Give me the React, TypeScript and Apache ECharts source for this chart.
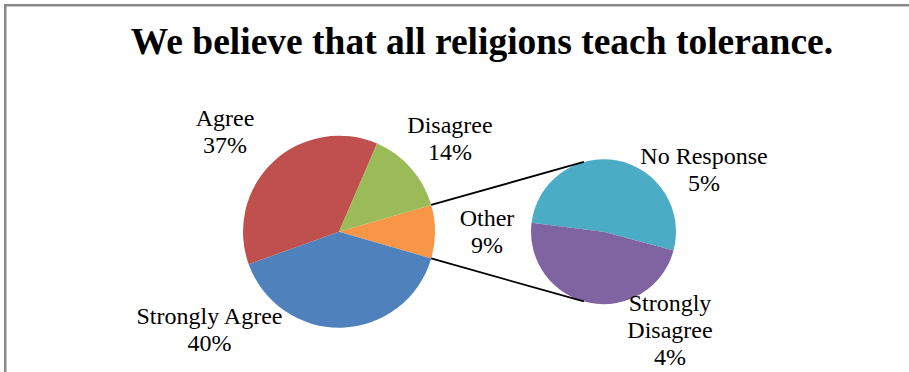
import React, { useEffect, useRef } from 'react';
import * as echarts from 'echarts';

const titleText = 'We believe that all religions teach tolerance.';
const otherName = 'Other';
const mainCategories = ['Strongly Agree', 'Agree', 'Disagree'];
const mainValues = [40, 37, 14];
const subCategories = ['No Response', 'Strongly Disagree'];
const subValues = [4.7, 4.3];

const otherColor = '#F79646';
const mainColors = ['#4F81BD', '#C0504D', '#9BBB59'];
const subColors = ['#4BACC6', '#8064A2'];

// layout
const W = 909;
const H = 372;
const mainCenter = [339, 231.7];
const mainR = 96;
const subCenter = [603.5, 231.7];
const subR = 72.5;
const subStartAngle = 172.9;
const labelPos: Record<string, [number, number]> = {
  'Other': [487, 231],
  'Strongly Agree': [209.5, 329],
  'Agree': [225, 131],
  'Disagree': [450, 138],
  'No Response': [704, 169.5],
  'Strongly Disagree': [670, 330],
};
const FONT = 'Liberation Serif';

export default function App() {
  const ref = useRef<HTMLDivElement>(null);
  useEffect(() => {
    document.body.style.margin = '0';
    if (!ref.current) return;
    const chart = echarts.init(ref.current, undefined, { renderer: 'svg' });

    const otherValue = subValues.reduce((a, b) => a + b, 0);
    const total = mainValues.reduce((a, b) => a + b, 0) + otherValue;
    const otherShare = otherValue / total;
    const startAngle = otherShare * 180;

    const mainData = [
      { name: otherName, value: otherValue, itemStyle: { color: otherColor } },
      ...mainCategories.map((n, i) => ({ name: n, value: mainValues[i], itemStyle: { color: mainColors[i] } })),
    ];
    const subData = subCategories.map((n, i) => ({ name: n, value: subValues[i], itemStyle: { color: subColors[i] } }));

    const fmt = (p: any) => {
      const pct = Math.round((p.value / total) * 100);
      const name = p.name === 'Strongly Disagree' ? 'Strongly\nDisagree' : p.name;
      return name + '\n' + pct + '%';
    };

    // connector lines: from the edges of the Other slice to tangents of the secondary pie
    const rad = (d: number) => (d * Math.PI) / 180;
    const edge = (ang: number) => [mainCenter[0] + mainR * Math.cos(rad(ang)), mainCenter[1] - mainR * Math.sin(rad(ang))];
    const tangent = (p: number[], upper: boolean) => {
      const dx = p[0] - subCenter[0];
      const dy = -(p[1] - subCenter[1]);
      const d = Math.sqrt(dx * dx + dy * dy);
      const phi = Math.atan2(dy, dx);
      const a = Math.acos(subR / d);
      const t = upper ? phi - a : phi + a;
      return [subCenter[0] + subR * Math.cos(t), subCenter[1] - subR * Math.sin(t)];
    };
    const p1 = edge(startAngle);
    const p2 = edge(-startAngle);
    const t1 = tangent(p1, true);
    const t2 = tangent(p2, false);

    const labelCommon = {
      show: true,
      position: 'outside',
      formatter: fmt,
      fontFamily: FONT,
      fontSize: 24,
      lineHeight: 27,
      color: '#000',
    };

    chart.setOption({
      animation: false,
      backgroundColor: '#fff',
      title: {
        text: titleText,
        left: 477,
        textAlign: 'center',
        top: 17,
        textStyle: { fontFamily: FONT, fontSize: 37.5, fontWeight: 'bold', color: '#000' },
      },
      graphic: [
        {
          type: 'rect',
          shape: { x: 5.25, y: 5.25, width: 1000, height: 1000 },
          style: { fill: 'none', stroke: '#8a8a8a', lineWidth: 2.5 },
          silent: true,
        },
        {
          type: 'line',
          shape: { x1: p1[0], y1: p1[1], x2: t1[0], y2: t1[1] },
          style: { stroke: '#000', lineWidth: 1.8 },
          z: 10,
        },
        {
          type: 'line',
          shape: { x1: p2[0], y1: p2[1], x2: t2[0], y2: t2[1] },
          style: { stroke: '#000', lineWidth: 1.8 },
          z: 10,
        },
      ],
      series: [
        {
          type: 'pie',
          center: mainCenter,
          radius: mainR,
          startAngle,
          clockwise: true,
          avoidLabelOverlap: false,
          data: mainData,
          label: labelCommon,
          labelLine: { show: false },
          labelLayout: (params: any) => {
            const n = mainData[params.dataIndex].name;
            const pos = labelPos[n];
            return { x: pos[0], y: pos[1], align: 'center', verticalAlign: 'middle' };
          },
          emphasis: { disabled: true },
        },
        {
          type: 'pie',
          center: subCenter,
          radius: subR,
          startAngle: subStartAngle,
          clockwise: true,
          avoidLabelOverlap: false,
          data: subData,
          label: labelCommon,
          labelLine: { show: false },
          labelLayout: (params: any) => {
            const n = subData[params.dataIndex].name;
            const pos = labelPos[n];
            return { x: pos[0], y: pos[1], align: 'center', verticalAlign: 'middle' };
          },
          emphasis: { disabled: true },
        },
      ],
    });
    return () => chart.dispose();
  }, []);
  return <div ref={ref} style={{ width: W, height: H }} />;
}
